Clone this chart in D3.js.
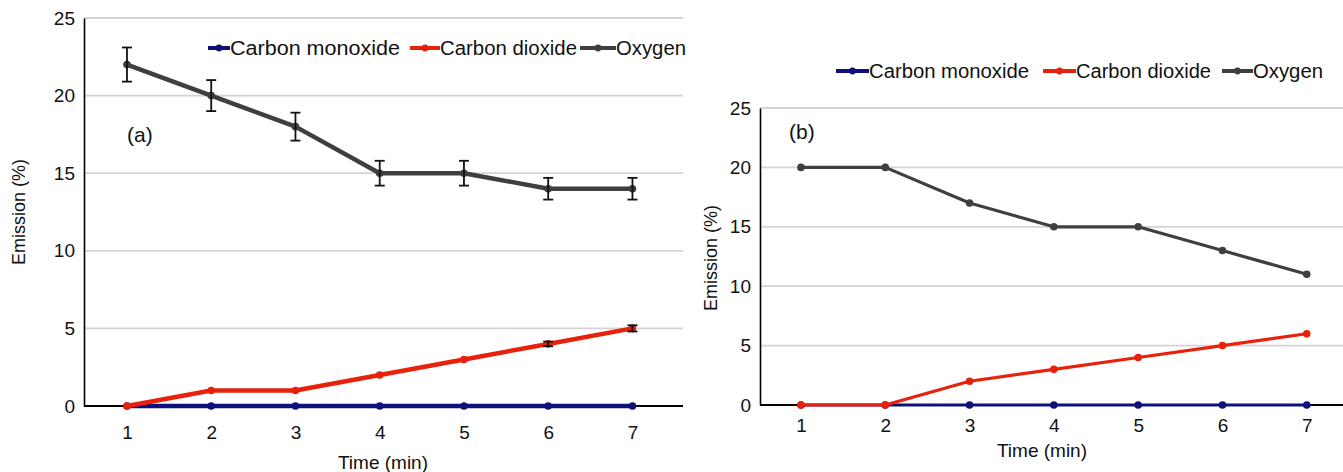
<!DOCTYPE html>
<html><head><meta charset="utf-8">
<script src="https://cdn.jsdelivr.net/npm/d3@7"></script>
<style>body{margin:0;background:#fff}svg{display:block;font-family:"Liberation Sans",Arial,sans-serif}</style>
</head><body>
<svg id="c" width="1343" height="472"></svg>
<script>
const times = [1,2,3,4,5,6,7];
const yTicks = [0,5,10,15,20,25];
const seriesNames = ["Carbon monoxide","Carbon dioxide","Oxygen"];
const seriesColors = ["#10107a","#e8210c","#3f3f3f"];
// Panel (a)
const aCO  = [0,0,0,0,0,0,0];
const aCO2 = [0,1,1,2,3,4,5];
const aO2  = [22,20,18,15,15,14,14];
const aCO2err = [0,0,0,0,0,0.15,0.2];
const aO2err  = [1.1,1.0,0.9,0.8,0.8,0.7,0.7];
// Panel (b)
const bCO  = [0,0,0,0,0,0,0];
const bCO2 = [0,0,2,3,4,5,6];
const bO2  = [20,20,17,15,15,13,11];

const svg = d3.select("#c");
const FS = 19;

function panel(o){
  const g = svg.append("g");
  const x = d3.scaleLinear().domain(o.xdom).range([o.left,o.right]);
  const y = d3.scaleLinear().domain([0,25]).range([o.bottom,o.top]);
  g.selectAll(".grid").data(yTicks.filter(d=>d>0)).join("line")
    .attr("x1",o.left).attr("x2",o.right).attr("y1",d=>y(d)).attr("y2",d=>y(d))
    .attr("stroke","#d4d4d4").attr("stroke-width",1.8);
  const ya = g.append("g").attr("transform",`translate(${o.left},0)`)
    .call(d3.axisLeft(y).tickValues(yTicks).tickSize(0).tickPadding(o.ypad));
  ya.select(".domain").attr("stroke","#000").attr("stroke-width",1.6);
  ya.selectAll("text").attr("font-size",FS).attr("fill","#111");
  const xa = g.append("g").attr("transform",`translate(0,${o.bottom})`)
    .call(d3.axisBottom(x).tickValues(times).tickSize(0).tickPadding(o.xpad).tickFormat(d3.format("d")));
  xa.select(".domain").attr("d",`M${o.left},0H${o.right}`).attr("stroke","#000").attr("stroke-width",1.8);
  xa.selectAll("text").attr("font-size",FS).attr("fill","#111");
  g.append("text").attr("x",o.xtitleX).attr("y",o.xtitleY).attr("text-anchor","middle")
    .attr("font-size",FS).attr("fill","#111").text("Time (min)");
  g.append("text").attr("transform",`translate(${o.ytitleX},${o.ytitleY}) rotate(-90)`)
    .attr("text-anchor","middle").attr("font-size",18).attr("fill","#111").text("Emission (%)");
  g.append("text").attr("x",o.labX).attr("y",o.labY).attr("font-size",21).attr("fill","#111").text(o.label);

  const line = d3.line().x((d,i)=>x(times[i])).y(d=>y(d));
  const data = [o.co,o.co2,o.o2];
  [2,0,1].forEach(k=>{
    g.append("path").datum(data[k]).attr("d",line).attr("fill","none")
      .attr("stroke",seriesColors[k]).attr("stroke-width",o.lw).attr("stroke-linejoin","round");
    g.selectAll(null).data(data[k]).join("circle")
      .attr("cx",(d,i)=>x(times[i])).attr("cy",d=>y(d)).attr("r",o.r).attr("fill",seriesColors[k]);
  });
  if(o.errs){
    o.errs.forEach(([vals,errs])=>{
      vals.forEach((v,i)=>{
        if(!errs[i]) return;
        const cx = x(times[i]);
        const eg = g.append("g").attr("stroke","#111").attr("stroke-width",1.8);
        eg.append("line").attr("x1",cx).attr("x2",cx).attr("y1",y(v+errs[i])).attr("y2",y(v-errs[i]));
        eg.append("line").attr("x1",cx-5).attr("x2",cx+5).attr("y1",y(v+errs[i])).attr("y2",y(v+errs[i]));
        eg.append("line").attr("x1",cx-5).attr("x2",cx+5).attr("y1",y(v-errs[i])).attr("y2",y(v-errs[i]));
      });
    });
  }
  const lg = g.append("g");
  o.leg.forEach((p,k)=>{
    lg.append("line").attr("x1",p[0]).attr("x2",p[1]).attr("y1",o.legY).attr("y2",o.legY)
      .attr("stroke",seriesColors[k]).attr("stroke-width",4);
    lg.append("circle").attr("cx",(p[0]+p[1])/2).attr("cy",o.legY).attr("r",3.4).attr("fill",seriesColors[k]);
    lg.append("text").attr("x",p[1]).attr("y",o.legY).attr("dy","0.36em")
      .attr("font-size",20).attr("fill","#111").attr("textLength",p[2]).attr("lengthAdjust","spacingAndGlyphs")
      .text(seriesNames[k]);
  });
}

panel({left:84,right:683,top:18,bottom:406,xdom:[0.49,7.6],xpad:20,ypad:9,
  xtitleX:383,xtitleY:469,ytitleX:25,ytitleY:212,label:"(a)",labX:127,labY:142,
  co:aCO,co2:aCO2,o2:aO2,lw:4.5,r:3.8,
  errs:[[aO2,aO2err],[aCO2,aCO2err]],
  legY:48,leg:[[208,230,170],[410,440,137],[580,616,70]]});

panel({left:760,right:1343,top:108,bottom:405,xdom:[0.514,7.43],xpad:14,ypad:9,
  xtitleX:1042,xtitleY:457,ytitleX:717,ytitleY:258,label:"(b)",labX:789,labY:139,
  co:bCO,co2:bCO2,o2:bO2,lw:3.2,r:3.8,errs:null,
  legY:71,leg:[[836,869,160],[1043,1076,135],[1222,1253,70]]});
</script>
</body></html>
